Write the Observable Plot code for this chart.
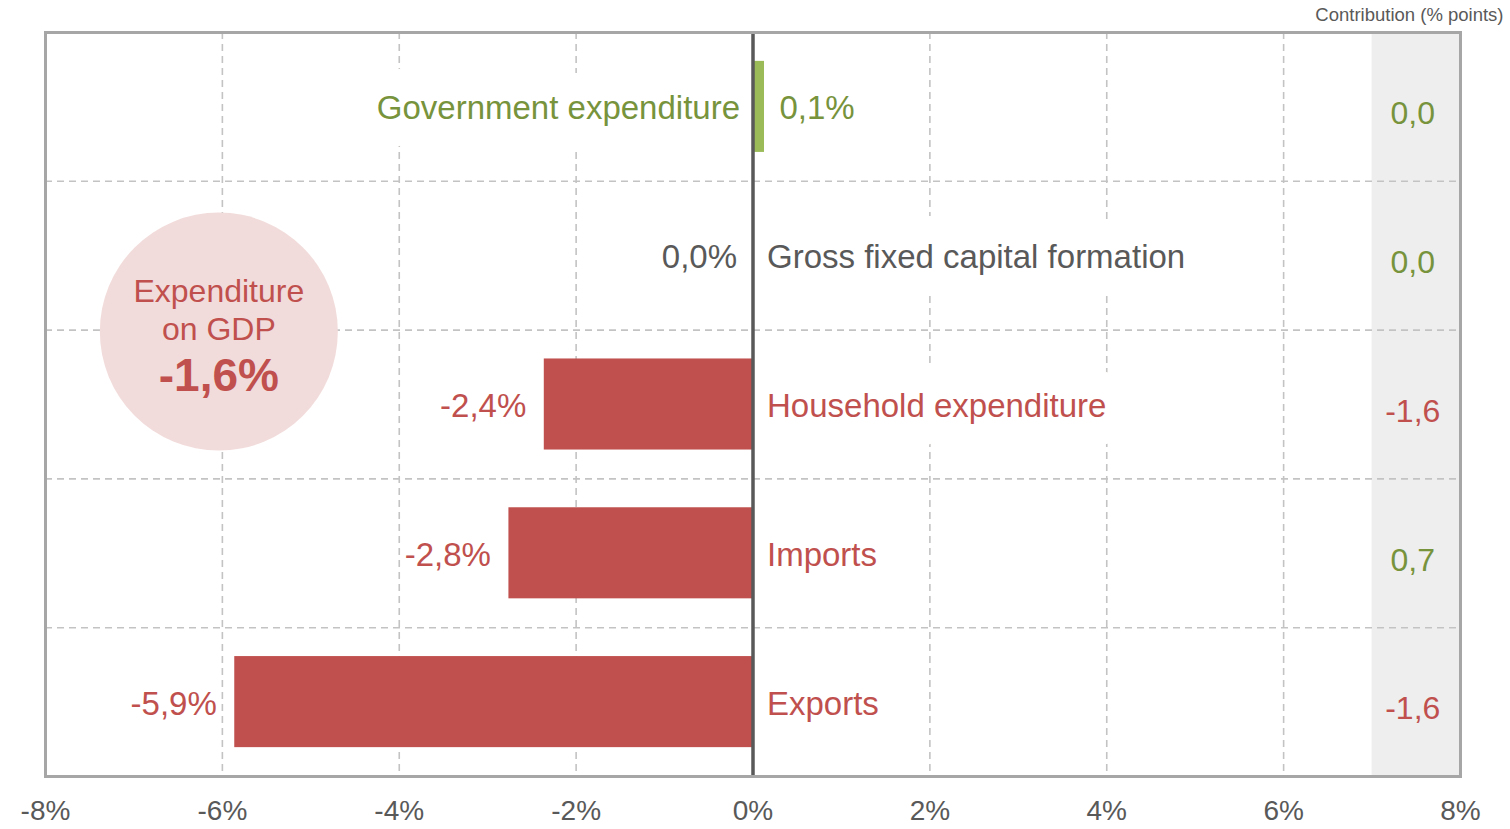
<!DOCTYPE html>
<html>
<head>
<meta charset="utf-8">
<script src="https://cdn.jsdelivr.net/npm/d3@7"></script>
<script src="https://cdn.jsdelivr.net/npm/@observablehq/plot@0.6"></script>
<style>
  html, body { margin: 0; padding: 0; background: #ffffff; }
  #chart { width: 1510px; height: 829px; }
  g[aria-label="category-label"] text { word-spacing: 7px; }
</style>
</head>
<body>
<div id="chart"></div>
<script>
const categories = ["Government expenditure", "Gross fixed capital formation", "Household expenditure", "Imports", "Exports"];
const values = [0.13, 0.0, -2.36, -2.76, -5.86];
const contributions = [0.0, 0.0, -1.6, 0.7, -1.6];
const xTicks = [-8, -6, -4, -2, 0, 2, 4, 6, 8];
const gdpTotal = -1.6;
const gdpTitle = "Expenditure\non GDP";
const contributionTitle = "Contribution (% points)";

const RED = "#c0504d", GREEN_BAR = "#9bbb59", GREEN_TXT = "#77933c", GREY = "#595959";
const comma = (v, d) => (Math.round(v * 10) / 10).toFixed(d).replace(".", ",");
const pct = v => comma(v, 1) + "%";

const rows = categories.map((cat, i) => ({cat, i, value: values[i], contrib: contributions[i]}));
const labelColor = d => d.value > 0 ? GREEN_TXT : d.value === 0 ? GREY : RED;
const half = 0.306;
const gdpPos = [{x: -6.04, y: 1.51}];

const chart = Plot.plot({
  width: 1510,
  height: 829,
  marginLeft: 45,
  marginRight: 50,
  marginTop: 32,
  marginBottom: 53,
  style: {fontFamily: "'Liberation Sans', Arial, sans-serif", background: "#ffffff", overflow: "visible"},
  x: {domain: [-8, 8], axis: null},
  y: {domain: [4.5, -0.5], axis: null},
  color: {type: "identity"},
  marks: [
    Plot.rect([{x1: 7, x2: 8, y1: -0.5, y2: 4.5}], {x1: "x1", x2: "x2", y1: "y1", y2: "y2", fill: "#eeeeee"}),
    Plot.ruleX(xTicks.filter(d => d !== 0 && Math.abs(d) !== 8), {stroke: "#c3c3c3", strokeWidth: 1.6, strokeDasharray: "7,5"}),
    Plot.ruleY([0.5, 1.5, 2.5, 3.5], {stroke: "#c3c3c3", strokeWidth: 1.6, strokeDasharray: "7,5"}),
    Plot.dot(gdpPos, {x: "x", y: "y", r: 119, fill: "#f2dcdb", stroke: null}),
    Plot.text(gdpPos, {x: "x", y: "y", text: () => gdpTitle, fontSize: 32, lineHeight: 1.19, lineAnchor: "middle", dy: -23, fill: RED}),
    Plot.text(gdpPos, {x: "x", y: "y", text: () => pct(gdpTotal), fontSize: 46, fontWeight: "bold", lineAnchor: "middle", dy: 45, fill: RED}),
    // category labels (white halo interrupts gridlines like the label boxes)
    Plot.text(rows.filter(d => d.value > 0), {x: 0, y: "i", text: "cat", textAnchor: "end", dx: -13, dy: 2, fontSize: 33, fill: labelColor, stroke: "white", strokeWidth: 56, strokeLinejoin: "round", ariaLabel: "category-label"}),
    Plot.text(rows.filter(d => d.value <= 0), {x: 0, y: "i", text: "cat", textAnchor: "start", dx: 14, dy: 2, fontSize: 33, fill: labelColor, stroke: "white", strokeWidth: 56, strokeLinejoin: "round", ariaLabel: "category-label"}),
    // value labels
    Plot.text(rows.filter(d => d.value > 0), {x: "value", y: "i", text: d => pct(d.value), textAnchor: "start", dx: 15, dy: 2, fontSize: 33, fill: labelColor}),
    Plot.text(rows.filter(d => d.value === 0), {x: 0, y: "i", text: d => pct(d.value), textAnchor: "end", dx: -16, dy: 2, fontSize: 33, fill: labelColor}),
    Plot.text(rows.filter(d => d.value < 0), {x: "value", y: "i", text: d => pct(d.value), textAnchor: "end", dx: -18, dy: 2, fontSize: 33, fill: labelColor}),
    // bars
    Plot.rectX(rows, {x1: 0, x2: "value", y1: d => d.i - half, y2: d => d.i + half, fill: d => d.value >= 0 ? GREEN_BAR : RED}),
    // contributions column
    Plot.text(rows, {x: 7.46, y: "i", text: d => comma(d.contrib, 1), dy: 7, fontSize: 32, fill: d => d.contrib < 0 ? RED : GREEN_TXT}),
    Plot.text([contributionTitle], {frameAnchor: "top-right", dx: 43, dy: -17, textAnchor: "end", lineAnchor: "middle", fontSize: 18.5, fill: GREY}),
    Plot.ruleX([0], {stroke: GREY, strokeWidth: 3.5}),
    Plot.frame({stroke: "#a6a6a6", strokeWidth: 3}),
    Plot.axisX({ticks: xTicks, tickFormat: d => `${d}%`, tickSize: 0, tickPadding: 24, fontSize: 28, fill: GREY, label: null})
  ]
});
d3.select(chart).selectAll('g[aria-label="category-label"] text').attr("word-spacing", "7").style("word-spacing", "7px");
document.getElementById("chart").appendChild(chart);
</script>
</body>
</html>
